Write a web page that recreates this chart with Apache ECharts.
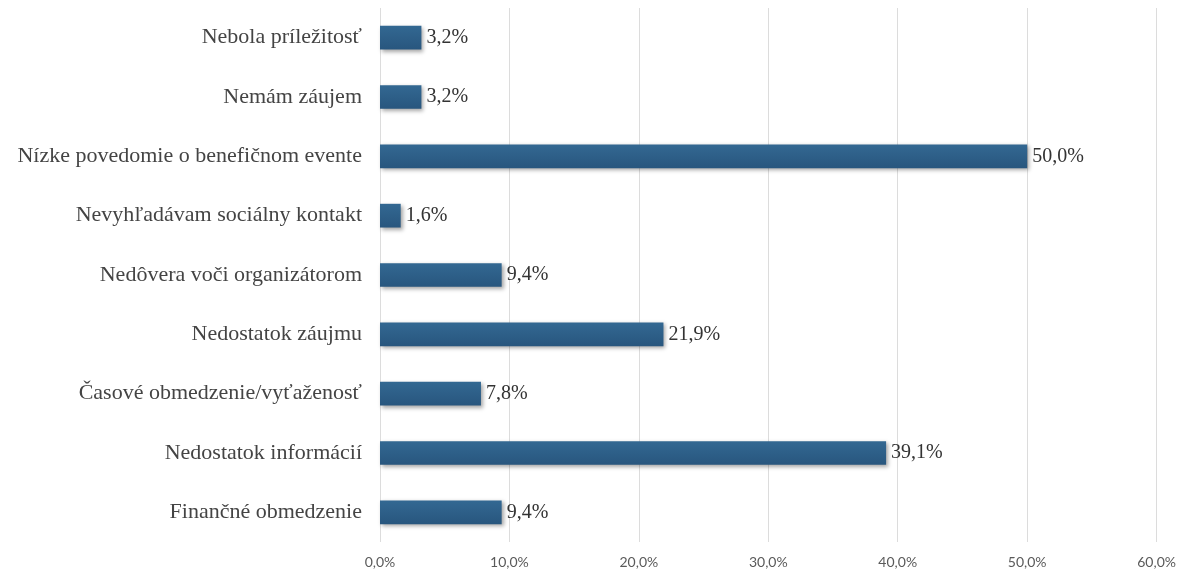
<!DOCTYPE html>
<html>
<head>
<meta charset="utf-8">
<script src="https://cdn.jsdelivr.net/npm/echarts@6/dist/echarts.min.js"></script>
<style>
  html, body { margin: 0; padding: 0; background: #fff; }
  #chart { width: 1179px; height: 571px; }
</style>
</head>
<body>
<div id="chart"></div>
<script>
// Reasons for not attending, bottom to top
const categories = [
  'Finančné obmedzenie',
  'Nedostatok informácií',
  'Časové obmedzenie/vyťaženosť',
  'Nedostatok záujmu',
  'Nedôvera voči organizátorom',
  'Nevyhľadávam sociálny kontakt',
  'Nízke povedomie o benefičnom evente',
  'Nemám záujem',
  'Nebola príležitosť'
];
const shares = [9.4, 39.1, 7.8, 21.9, 9.4, 1.6, 50.0, 3.2, 3.2];
const axisTicks = [0, 10, 20, 30, 40, 50, 60];

const fmt = v => v.toFixed(1).replace('.', ',') + '%';

const chart = echarts.init(document.getElementById('chart'));
chart.setOption({
  animation: false,
  grid: { left: 380, right: 21, top: 8, bottom: 29 },
  xAxis: {
    type: 'value',
    min: axisTicks[0],
    max: axisTicks[axisTicks.length - 1],
    interval: axisTicks[1] - axisTicks[0],
    axisLine: { show: false },
    axisTick: { show: false },
    splitLine: { lineStyle: { color: '#dcdcdc', width: 1 } },
    axisLabel: {
      formatter: fmt,
      color: '#5a5a5a',
      fontFamily: 'Lato, sans-serif',
      fontSize: 14,
      margin: 13
    }
  },
  yAxis: {
    type: 'category',
    data: categories,
    axisLine: { show: false },
    axisTick: { show: false },
    axisLabel: {
      color: '#444',
      fontFamily: '"Liberation Serif", serif',
      fontSize: 22,
      margin: 18
    }
  },
  series: [{
    type: 'bar',
    data: shares,
    barWidth: '40%',
    itemStyle: {
      color: new echarts.graphic.LinearGradient(0, 0, 0, 1, [
        { offset: 0, color: '#336892' },
        { offset: 1, color: '#28567e' }
      ]),
      shadowColor: 'rgba(0,0,0,0.35)',
      shadowBlur: 4,
      shadowOffsetX: 2,
      shadowOffsetY: 2
    },
    label: {
      show: true,
      position: 'right',
      distance: 5,
      formatter: p => fmt(p.value),
      color: '#333',
      fontFamily: '"Liberation Serif", serif',
      fontSize: 20
    }
  }]
});
</script>
</body>
</html>
